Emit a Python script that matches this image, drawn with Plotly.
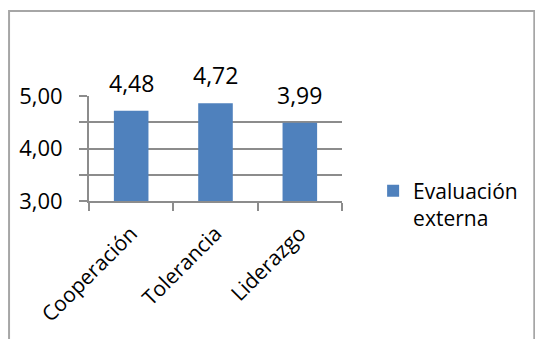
import plotly.graph_objects as go

categories = ["Cooperación", "Tolerancia", "Liderazgo"]
bar_values = [4.72, 4.86, 4.49]
label_texts = ["4,48", "4,72", "3,99"]
series_name = "Evaluación<br>externa"
y_tickvals = [3.0, 3.5, 4.0, 4.5, 5.0]
y_ticktext = ["3,00", "", "4,00", "", "5,00"]

FONT = "Open Sans"
GRID = "#8c8c8c"

fig = go.Figure()
fig.add_trace(go.Bar(
    x=categories, y=bar_values, name=series_name,
    marker=dict(color="#4f81bd", line=dict(width=0)),
    width=0.41, showlegend=True,
))

for c, v, t in zip(categories, bar_values, label_texts):
    fig.add_annotation(x=c, y=v, text=t, showarrow=False, yshift=28,
                       yanchor="middle", font=dict(family=FONT, size=23, color="#000000"))

# outer chart frame
fig.add_shape(type="rect", xref="paper", yref="paper",
              x0=-0.316, x1=1.76, y0=-1.35, y1=1.81,
              line=dict(color="#a6a6a6", width=2), fillcolor="rgba(0,0,0,0)")

fig.update_layout(
    width=535, height=339,
    margin=dict(l=89, r=188, t=96, b=136),
    paper_bgcolor="white", plot_bgcolor="white",
    font=dict(family=FONT, size=21, color="#000000"),
    bargap=0.59,
    showlegend=True,
    legend=dict(x=1.123, y=0.29, xanchor="left", yanchor="top",
                valign="top", font=dict(family=FONT, size=21),
                itemwidth=30, tracegroupgap=0, bgcolor="rgba(0,0,0,0)"),
    xaxis=dict(showline=True, linecolor=GRID, linewidth=2,
               ticks="outside", tickson="boundaries", ticklen=8, tickwidth=2,
               tickcolor=GRID, tickangle=-45, showgrid=False,
               ticklabelstandoff=10,
               tickfont=dict(family=FONT, size=21)),
    yaxis=dict(range=[3, 5], showline=True, linecolor=GRID, linewidth=2,
               tickvals=y_tickvals, ticktext=y_ticktext,
               ticks="outside", ticklen=8, tickwidth=2, tickcolor=GRID,
               showgrid=True, gridcolor=GRID, gridwidth=2, zeroline=False,
               ticklabelstandoff=12,
               tickfont=dict(family=FONT, size=22)),
)

fig.write_html("out.html")
